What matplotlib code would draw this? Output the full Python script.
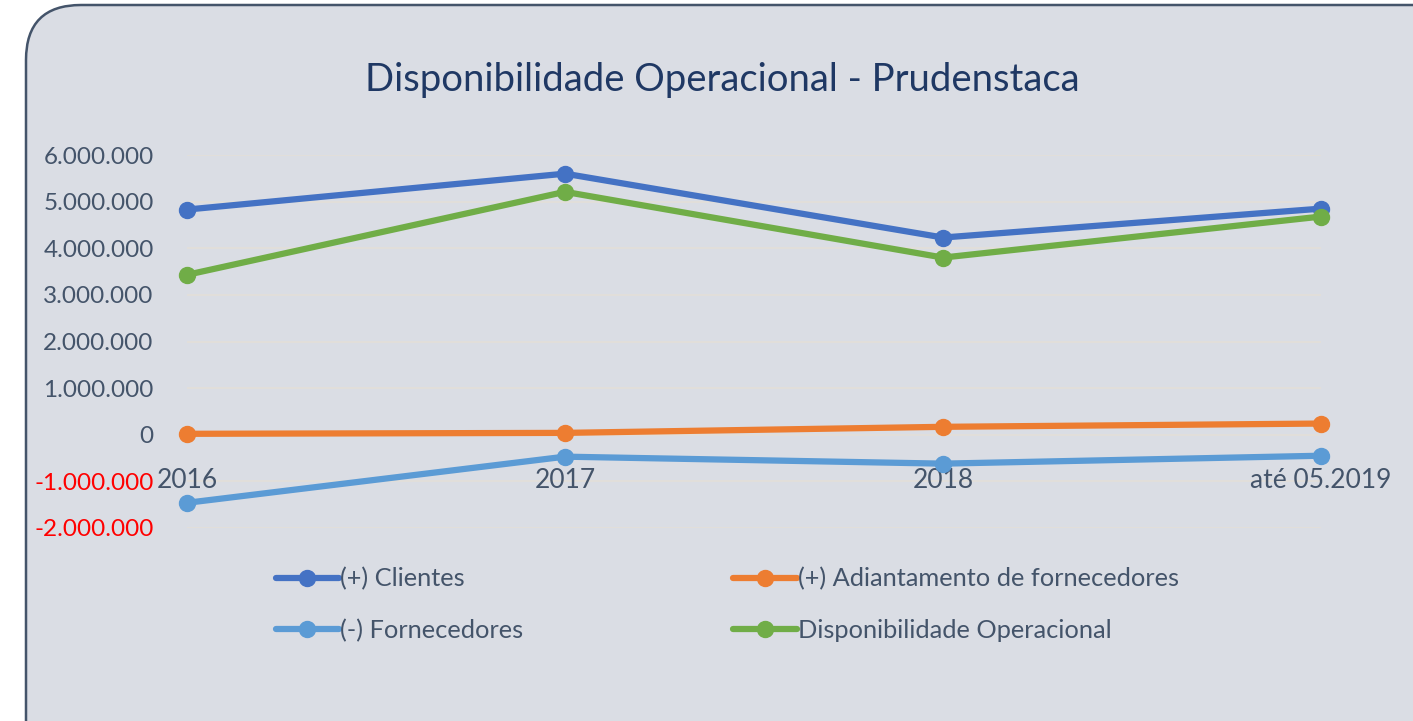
import matplotlib
matplotlib.use('Agg')
import matplotlib.pyplot as plt
from matplotlib.patches import FancyBboxPatch
from matplotlib.transforms import IdentityTransform
from matplotlib.ticker import FuncFormatter

plt.rcParams['font.family'] = ['Lato', 'DejaVu Sans']

# chart data
categories = ['2016', '2017', '2018', 'até 05.2019']
clientes = [4830000, 5600000, 4230000, 4850000]
adiantamento = [20000, 40000, 170000, 240000]
fornecedores = [-1460000, -470000, -620000, -450000]
disponibilidade = [3430000, 5210000, 3800000, 4680000]
y_ticks = list(range(-2000000, 6000001, 1000000))

series = [
    ('(+) Clientes', clientes, '#4472c4'),
    ('(+) Adiantamento de fornecedores', adiantamento, '#ed7d31'),
    ('(-) Fornecedores', fornecedores, '#5b9bd5'),
    ('Disponibilidade Operacional', disponibilidade, '#70ad47'),
]

text_color = '#44546a'

fig = plt.figure(figsize=(14.13, 7.21), dpi=100)
fig.patch.set_facecolor('white')

# rounded chart-area box (pixel coordinates)
box = FancyBboxPatch((26, -120), 1500, 836,
                     boxstyle='round,pad=0,rounding_size=55',
                     transform=IdentityTransform(),
                     facecolor='#dadde4', edgecolor=text_color, linewidth=1.8,
                     zorder=-1)
fig.patches.append(box)

ax = fig.add_axes([0.1323, 0.2677, 0.8026, 0.5173])
ax.set_facecolor('none')
ax.set_zorder(2)

x = list(range(len(categories)))

# gridlines under the category labels
ax.hlines(y_ticks, x[0], x[-1], color='#e2dfda', linewidth=1.3, zorder=1)

handles = {}
for name, vals, color in series:
    h, = ax.plot(x, vals, color=color, linewidth=4.5, marker='o',
                 markersize=11.5, solid_capstyle='round', label=name,
                 clip_on=False, zorder=3)
    handles[name] = h

ax.set_xlim(0, len(categories) - 1)
ax.set_ylim(y_ticks[0], y_ticks[-1])
ax.set_yticks(y_ticks)
ax.yaxis.set_major_formatter(FuncFormatter(
    lambda v, p: f'{int(v):,}'.replace(',', '.')))
ax.set_axisbelow(False)

for s in ['top', 'right', 'left']:
    ax.spines[s].set_visible(False)
ax.spines['bottom'].set_position(('data', 0))
ax.spines['bottom'].set_visible(False)

ax.set_xticks(x)
ax.set_xticklabels(categories)
ax.tick_params(axis='x', length=0, pad=24, labelsize=19, labelcolor=text_color)
ax.tick_params(axis='y', length=0, pad=24, labelsize=17.5, labelcolor=text_color)
for lbl, v in zip(ax.get_yticklabels(), ax.get_yticks()):
    if v < 0:
        lbl.set_color('#ff0000')

fig.text(0.511, 0.889, 'Disponibilidade Operacional - Prudenstaca',
         ha='center', va='center', fontsize=27.5, color='#1f3864')

order = ['(+) Clientes', '(-) Fornecedores',
         '(+) Adiantamento de fornecedores', 'Disponibilidade Operacional']
leg = fig.legend([handles[n] for n in order], order, ncol=2, frameon=False,
                 loc='upper left', bbox_to_anchor=(0.195, 0.213),
                 fontsize=18.3, labelcolor=text_color, handlelength=2.5,
                 handletextpad=0.05, columnspacing=8.25, labelspacing=1.1,
                 borderaxespad=0, borderpad=0)
leg.set_zorder(3)

fig.savefig('out.png', dpi=100)
